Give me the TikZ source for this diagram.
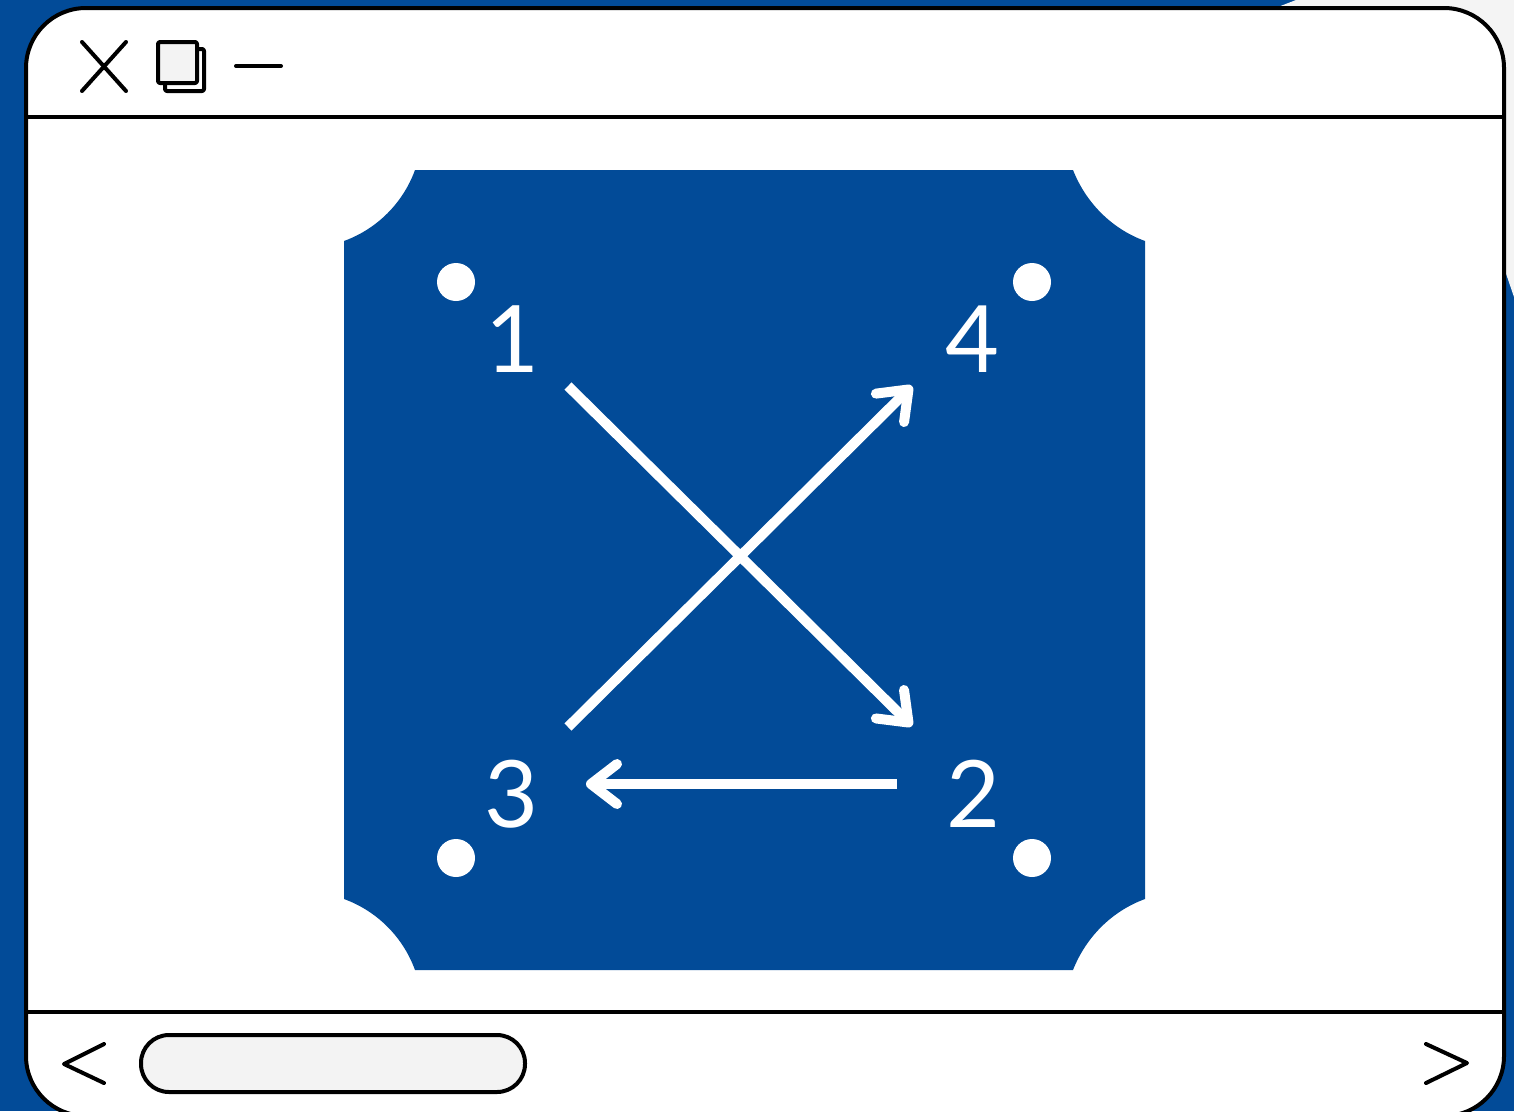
\documentclass[tikz,border=0pt]{standalone}
\usepackage{fontspec}
\setmainfont{Lato}
\usetikzlibrary{arrows.meta}
\definecolor{bgblue}{RGB}{2,75,152}
\definecolor{cornergray}{RGB}{244,244,244}
\definecolor{iconfill}{RGB}{243,243,243}
\tikzset{
  frameline/.style={draw=black,line width=4pt},
  iconline/.style={draw=black,line width=4pt,line cap=round,line join=round},
  dotnode/.style={circle,fill=white,minimum size=38pt,inner sep=0pt},
  lbl/.style={text=white,anchor=base,inner sep=0pt,font=\fontsize{93}{93}\selectfont},
  flow/.style={draw=white,line width=10pt,-{Straight Barb[length=26pt,width=40pt,round]}},
}
\begin{document}
\begin{tikzpicture}[x=1pt,y=-1pt]
\useasboundingbox (0,0) rectangle (1514,1111);
\clip (0,0) rectangle (1514,1111);
% background
\fill[bgblue] (0,0) rectangle (1514,1111);
\fill[cornergray] (1296,0) -- (1265,12) -- (1265,250) -- (1502,262) -- (1514,297) -- (1514,0) -- cycle;
% window
\draw[frameline,fill=white,rounded corners=60pt] (26,8) rectangle (1504,1116);
\draw[frameline] (26,117) -- (1504,117);
\draw[frameline] (26,1012) -- (1504,1012);
% title bar icons
\draw[iconline] (82,42) -- (126,91);
\draw[iconline] (126,42) -- (82,91);
\draw[iconline,fill=white,rounded corners=2pt] (165,49) rectangle (204,91);
\draw[iconline,fill=iconfill,rounded corners=2pt] (158,42) rectangle (197,83);
\draw[iconline] (236,66) -- (281,66);
% scroll bar
\draw[iconline] (104,1044) -- (64,1064) -- (104,1083);
\draw[iconline] (1426,1044) -- (1467,1063) -- (1426,1083);
\draw[frameline,fill=iconfill,rounded corners=28pt] (141,1035) rectangle (525,1092);
% card
\fill[bgblue] (415,170) -- (1073,170) .. controls (1086,203) and (1112,229) .. (1145,241)
  -- (1145,899) .. controls (1112,911) and (1086,937) .. (1073,970)
  -- (415,970) .. controls (403,937) and (377,911) .. (344,899)
  -- (344,241) .. controls (377,229) and (403,203) .. (415,170) -- cycle;
% dots
\node[dotnode] (d1) at (456,282) {};
\node[dotnode] (d4) at (1032,282) {};
\node[dotnode] (d3) at (456,858) {};
\node[dotnode] (d2) at (1032,858) {};
% labels
\node[lbl] (l1) at (512,372) {1};
\node[lbl] (l4) at (972,372) {4};
\node[lbl] (l3) at (511,827) {3};
\node[lbl] (l2) at (973,827) {2};
% connectors
\coordinate (s1) at (568,386);
\coordinate (e2) at (912,726);
\coordinate (s3) at (568,727);
\coordinate (e4) at (912,386);
\coordinate (s2) at (897,784);
\coordinate (e3) at (586,784);
\draw[flow] (s1) -- (e2);
\draw[flow] (s3) -- (e4);
\draw[flow] (s2) -- (e3);
\end{tikzpicture}
\end{document}
